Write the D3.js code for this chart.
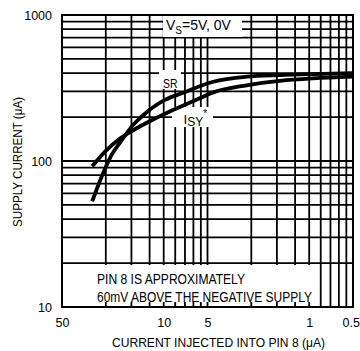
<!DOCTYPE html>
<html>
<head>
<meta charset="utf-8">
<script src="https://cdn.jsdelivr.net/npm/d3@7"></script>
<style>
  html, body { margin: 0; padding: 0; background: #fff; }
  svg { display: block; }
  text { font-family: "Liberation Sans", Arial, Helvetica, sans-serif; fill: #000; }
</style>
</head>
<body>
<svg id="chart" width="360" height="351"></svg>
<script>
// Current injected into pin 8 (µA), high to low
const srCurrent  = [31, 26.7, 22.8, 19.4, 16.6, 14.2, 12.1, 9.8, 7.5, 4.56, 2.69, 1.59, 0.94, 0.5];
const srSupply   = [53, 78, 110, 139, 172, 201, 230, 262, 291, 349, 378, 388, 394, 399];
const isyCurrent = [31, 25.3, 20.5, 17.5, 14.2, 11.5, 9.3, 7.6, 5.9, 4.56, 2.69, 1.59, 0.94, 0.5];
const isySupply  = [92, 116, 140, 155, 175, 195, 216, 236, 264, 295, 330, 354, 368, 378];

const xTickValues = [50, 10, 5, 1, 0.5];
const yTickValues = [10, 100, 1000];
// log-paper rulings (two cycles)
const paperRulings = [2, 3, 4, 5, 6, 7, 8, 9, 10, 20, 30, 40, 50, 60, 70, 80, 90];
const yRulings = [20, 30, 40, 50, 60, 70, 80, 90, 100, 200, 300, 400, 500, 600, 700, 800, 900];

const L = 62, R = 353, T = 15, B = 307;
const svg = d3.select("#chart");

const x = d3.scaleLog().domain([50, 0.5]).range([L, R]);
const y = d3.scaleLog().domain([10, 1000]).range([B, T]);
const paperX = d3.scaleLog().domain([1, 100]).range([L, R]);

// grid
const grid = svg.append("g").attr("stroke", "#000").attr("stroke-width", 1.8);
grid.selectAll("line.v").data(paperRulings).join("line")
  .attr("x1", d => paperX(d)).attr("x2", d => paperX(d))
  .attr("y1", T).attr("y2", B);
grid.selectAll("line.h").data(yRulings).join("line")
  .attr("y1", d => y(d)).attr("y2", d => y(d))
  .attr("x1", L).attr("x2", R);

// white label panels over the grid
const panels = [
  [163, T + 1, 79, 21],   // supply voltage
  [159, 70, 22, 19],      // SR
  [172, 107, 41, 20],     // ISY
  [L + 1, 265, 252, 37]   // note
];
svg.append("g").selectAll("rect").data(panels).join("rect")
  .attr("x", d => d[0]).attr("y", d => d[1])
  .attr("width", d => d[2]).attr("height", d => d[3])
  .attr("fill", "#fff");

// frame
svg.append("rect").attr("x", L).attr("y", T).attr("width", R - L).attr("height", B - T)
  .attr("fill", "none").attr("stroke", "#000").attr("stroke-width", 2);

// curves
const line = d3.line().x(d => x(d[0])).y(d => y(d[1])).curve(d3.curveMonotoneX);
const series = [
  d3.zip(srCurrent, srSupply),
  d3.zip(isyCurrent, isySupply)
];
svg.append("g").selectAll("path").data(series).join("path")
  .attr("d", line)
  .attr("fill", "none").attr("stroke", "#000").attr("stroke-width", 3.8);

// axes (labels only)
const xAxis = d3.axisBottom(x).tickValues(xTickValues).tickSize(0).tickPadding(0)
  .tickFormat(d3.format("~g"));
const gx = svg.append("g").attr("transform", `translate(0,${B + 11})`).call(xAxis);
gx.select(".domain").remove();
gx.selectAll("text").attr("font-size", 12.5).attr("font-family", null).attr("fill", "#000").attr("dy", "0.71em");
gx.selectAll(".tick").filter(d => d === 0.5).select("text").attr("text-anchor", "end").attr("x", 6.5);

const yAxis = d3.axisLeft(y).tickValues(yTickValues).tickSize(0).tickPadding(0)
  .tickFormat(d3.format("d"));
const gy = svg.append("g").attr("transform", `translate(${L - 10},0)`).call(yAxis);
gy.select(".domain").remove();
gy.selectAll("text").attr("font-size", 12.5).attr("font-family", null).attr("fill", "#000");

// axis titles
svg.append("text").attr("x", 112).attr("y", 347).attr("font-size", 13)
  .attr("textLength", 213).attr("lengthAdjust", "spacingAndGlyphs")
  .text("CURRENT INJECTED INTO PIN 8 (\u03BCA)");
svg.append("text").attr("transform", "translate(22,227) rotate(-90)").attr("font-size", 13)
  .attr("textLength", 130).attr("lengthAdjust", "spacingAndGlyphs")
  .text("SUPPLY CURRENT (\u03BCA)");

// supply condition
const vs = svg.append("text").attr("x", 166).attr("y", 30).attr("font-size", 14);
vs.append("tspan").text("V");
vs.append("tspan").attr("font-size", 10).attr("dy", 3.5).text("S");
vs.append("tspan").attr("dy", -3.5).text("=5V, 0V");

// curve labels
svg.append("text").attr("x", 163).attr("y", 87.5).attr("font-size", 13.5)
  .attr("textLength", 14.5).attr("lengthAdjust", "spacingAndGlyphs").text("SR");
const isy = svg.append("text").attr("x", 183.5).attr("y", 123.5).attr("font-size", 13.5);
isy.append("tspan").text("I");
isy.append("tspan").attr("font-size", 12).attr("dy", 2.5).text("SY");
isy.append("tspan").attr("font-size", 10).attr("dy", -9).text("*");

// note
svg.append("text").attr("x", 97).attr("y", 283.5).attr("font-size", 14)
  .attr("textLength", 148).attr("lengthAdjust", "spacingAndGlyphs")
  .text("PIN 8 IS APPROXIMATELY");
svg.append("text").attr("x", 97).attr("y", 301.5).attr("font-size", 14)
  .attr("textLength", 215).attr("lengthAdjust", "spacingAndGlyphs")
  .text("60mV ABOVE THE NEGATIVE SUPPLY");
</script>
</body>
</html>
